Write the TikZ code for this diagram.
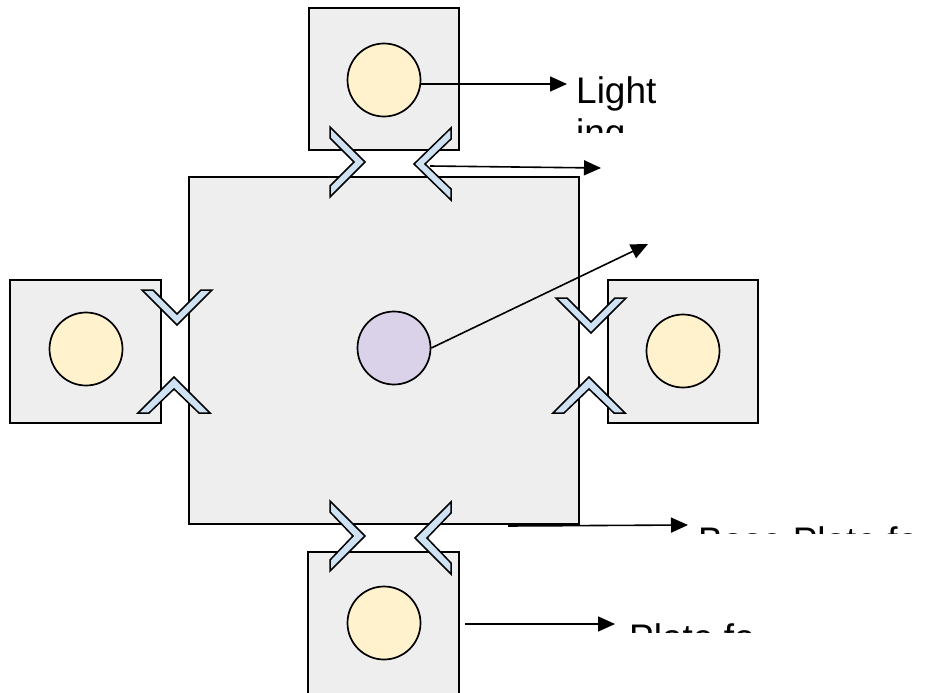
\documentclass[tikz,border=0pt]{standalone}
\usepackage{fontspec}
\setmainfont{Liberation Sans}
\usetikzlibrary{arrows.meta}
\definecolor{boxgray}{HTML}{EEEEEE}
\definecolor{lampyel}{HTML}{FFF2CC}
\definecolor{lampvio}{HTML}{D9D2E9}
\definecolor{chevblue}{HTML}{CFE2F3}
\tikzset{
  panel/.style={draw=black, line width=1.6pt, fill=boxgray},
  lamp/.style={circle, draw=black, line width=1.7pt, fill=lampyel, minimum size=73pt, inner sep=0pt},
  lampc/.style={lamp, fill=lampvio},
  chev/.style={draw=black, line width=1.5pt, fill=chevblue, line join=miter},
  lead/.style={draw=black, line width=1.6pt, -{Triangle[length=17pt,width=15pt]}},
  lbl/.style={anchor=base west, inner sep=0pt, font=\fontsize{37}{44}\selectfont}
}
\begin{document}
\begin{tikzpicture}[x=1pt,y=-1pt]
\clip (0,0) rectangle (935,693);
\fill[white] (0,0) rectangle (935,693);
% panels
\draw[panel] (189,177) rectangle (579,524);
\draw[panel] (309,8) rectangle (459,150);
\draw[panel] (10,280) rectangle (161,423);
\draw[panel] (608,280) rectangle (758,423);
\draw[panel] (308,552) rectangle (459,720);
% lamps
\node[lampc] (cc) at (394,348) {};
\node[lamp] (tc) at (384,80) {};
\node[lamp] (lc) at (86,349) {};
\node[lamp] (rc) at (683,351) {};
\node[lamp] (bc) at (384,623) {};
% chevrons
\draw[chev] (330,127) -- (365,162) -- (330,197) -- (330,186) -- (354,162) -- (330,138) -- cycle;
\draw[chev] (451,128) -- (414,164) -- (451,200) -- (451,189) -- (425,164) -- (451,139) -- cycle;
\draw[chev] (330,501) -- (365,536) -- (330,571) -- (330,560) -- (353,536) -- (330,512) -- cycle;
\draw[chev] (451,502) -- (415,538) -- (451,574) -- (451,563) -- (427,538) -- (451,513) -- cycle;
\draw[chev] (142,290) -- (177,325) -- (212,290) -- (201,290) -- (177,314) -- (153,290) -- cycle;
\draw[chev] (138,413) -- (174,377) -- (210,413) -- (199,413) -- (174,389) -- (149,413) -- cycle;
\draw[chev] (556,298) -- (591,333) -- (626,298) -- (615,298) -- (591,322) -- (567,298) -- cycle;
\draw[chev] (553,413) -- (589,377) -- (625,413) -- (614,413) -- (589,389) -- (564,413) -- cycle;
% leader coordinates
\coordinate (a1) at (567,84);
\coordinate (s2) at (430,166);
\coordinate (a2) at (601,168);
\coordinate (a3) at (648,244);
\coordinate (s4) at (508,526);
\coordinate (a4) at (688,525);
\coordinate (s5) at (465,624);
\coordinate (a5) at (615,624);
% leaders
\draw[lead] (tc.east |- a1) -- (a1);
\draw[lead] (s2) -- (a2);
\draw[lead] (cc.east) -- (a3);
\draw[lead] (s4) -- (a4);
\draw[lead] (s5) -- (a5);
% clipped labels
\begin{scope}
  \clip (560,0) rectangle (760,132);
  \node[lbl] (t1) at (576,103) {Light};
  \node[lbl] (t1b) at (576,145) {ing};
\end{scope}
\begin{scope}
  \clip (690,500) rectangle (935,533);
  \node[lbl] (t4) at (698,553) {Base Plate fo};
\end{scope}
\begin{scope}
  \clip (620,600) rectangle (800,632);
  \node[lbl] (t5) at (629,650) {Plate fo};
\end{scope}
\end{tikzpicture}
\end{document}
